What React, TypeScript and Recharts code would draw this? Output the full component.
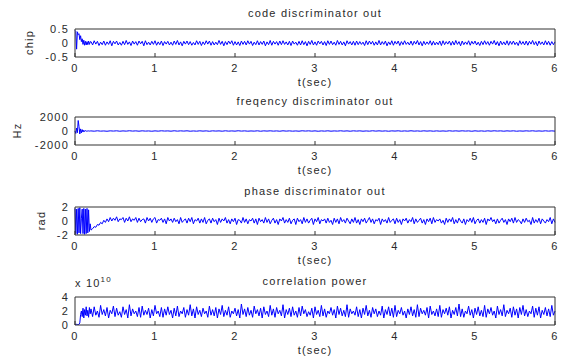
import React from "react";
import { LineChart, Line, XAxis, YAxis } from "recharts";

// sample times: dense start-up segment, then the tracking segment
const EARLY_STEP = 0.01;
const MAIN_START = 0.2;
const DENSE_STEP = 0.02;
const COARSE_STEP = 0.04;
const T_TICKS = [0, 1, 2, 3, 4, 5, 6];

// code discriminator out (chip)
const codeEarly = [0.45, 0.42, -0.22, 0.4, 0.3, 0.33, 0.12, 0.26, 0.05, 0.15, -0.05, 0.1, -0.08, 0.06, -0.07, 0.05, -0.06, 0.07, -0.05, 0.04];
const codeMain = [
  0.05, -0.07, 0.08, -0.04, 0.06, -0.09, 0.03, -0.06, 0.07, -0.08,
  0.04, -0.05, 0.08, -0.1, 0.06, -0.03, 0.07, -0.07, 0.02, -0.08,
  0.06, -0.06, 0.09, -0.05, 0.04, -0.09, 0.07, -0.04, 0.05, -0.08,
  0.07, -0.03, 0.06, -0.1, 0.08, -0.06, 0.03, -0.07, 0.06, -0.05,
  0.08, -0.08, 0.04, -0.06, 0.07, -0.09, 0.05, -0.04, 0.06, -0.07,
  0.03, -0.08, 0.07, -0.05, 0.09, -0.07, 0.04, -0.1, 0.06, -0.04,
  0.07, -0.06, 0.05, -0.08, 0.02, -0.07, 0.08, -0.05, 0.06, -0.09,
  0.04, -0.06, 0.08, -0.04, 0.07, -0.08, 0.05, -0.07, 0.03, -0.06,
  0.09, -0.05, 0.06, -0.1, 0.05, -0.06, 0.07, -0.03, 0.08, -0.08,
  0.05, -0.07, 0.04, -0.09, 0.07, -0.05, 0.06, -0.07, 0.08, -0.04,
  0.06, -0.09, 0.03, -0.06, 0.08, -0.07, 0.05, -0.05, 0.07, -0.1,
  0.04, -0.06, 0.09, -0.08, 0.06, -0.04, 0.05, -0.08, 0.07, -0.06,
  0.08, -0.05, 0.04, -0.07, 0.06, -0.09, 0.07, -0.04, 0.03, -0.08,
  0.06, -0.07, 0.08, -0.06, 0.05, -0.1, 0.06, -0.05, 0.09, -0.07,
  0.04, -0.08, 0.07, -0.03, 0.06, -0.07, 0.05, -0.09, 0.08, -0.05,
  0.07, -0.06, 0.03, -0.08, 0.09, -0.05, 0.06, -0.07, 0.04, -0.1,
  0.08, -0.04, 0.05, -0.07, 0.06, -0.08, 0.07, -0.06, 0.05, -0.05,
  0.03, -0.09, 0.08, -0.06, 0.07, -0.04, 0.06, -0.08, 0.04, -0.07,
  0.09, -0.07, 0.05, -0.05, 0.07, -0.1, 0.04, -0.06, 0.08, -0.08,
  0.06, -0.04, 0.07, -0.09, 0.05, -0.06, 0.08, -0.05, 0.03, -0.07,
  0.07, -0.08, 0.06, -0.04, 0.09, -0.07, 0.05, -0.1, 0.06, -0.06,
  0.04, -0.05, 0.08, -0.08, 0.06, -0.07, 0.03, -0.06, 0.07, -0.09,
  0.08, -0.06, 0.05, -0.04, 0.07, -0.08, 0.06, -0.07, 0.09, -0.05,
  0.05, -0.1, 0.07, -0.06, 0.04, -0.05, 0.08, -0.08, 0.06, -0.04,
  0.07, -0.07, 0.03, -0.09, 0.06, -0.06, 0.08, -0.05, 0.05, -0.08,
  0.06, -0.04, 0.09, -0.07, 0.05, -0.1, 0.07, -0.06, 0.04, -0.07,
  0.08, -0.08, 0.06, -0.05, 0.07, -0.06, 0.03, -0.09, 0.08, -0.05,
  0.05, -0.07, 0.07, -0.08, 0.06, -0.04, 0.09, -0.06, 0.05, -0.1,
  0.07, -0.05, 0.04, -0.07, 0.08, -0.06, 0.06, -0.08, 0.05, -0.06,
  0.04,
];

// freqency discriminator out (Hz)
const freqEarly = [0, -350, 420, -250, 1500, 650, -420, 300, -260, 200, -150, 110, -80, 60, -40, 30, -20, 15, -10, 5];
const freqMain = [
  12, -25, 30, -18, 8, -35, 22, -10, 28, -30,
  15, -20, 35, -12, 18, -28, 25, -15, 10, -32,
  20, -22, 30, -8, 14, -26, 32, -18, 22, -12,
  28, -30, 10, -24, 26, -16, 18, -34, 24, -10,
  16, -28, 30, -20, 12, -22, 34, -14, 20, -26,
  8, -18, 28, -32, 22, -12, 26, -20, 14, -30,
  30, -16, 18, -24, 10, -28, 32, -10, 24, -22,
  20, -34, 14, -18, 28, -26, 12, -14, 30, -20,
  18, -30, 26, -12, 22, -28, 10, -24, 34, -16,
  24, -20, 16, -32, 20, -10, 28, -26, 14, -22,
  32, -18, 12, -28, 26, -14, 20, -30, 18, -24,
  10, -26, 30, -16, 22, -20, 28, -12, 16, -34,
  26, -22, 14, -30, 24, -18, 30, -10, 20, -28,
  22, -14, 26, -30, 10, -18, 24, -12, 30, -22,
  12, -24, 28, -16, 18, -20,
];

// phase discriminator out (rad)
const phaseEarly = [1.8, -1.8, 1.7, -1.9, 1.8, -1.7, 1.9, -1.8, 0.4, 1.7, -1.8, 1.8, -1.9, 1.7, -1.8, 1.8, -1.7, 1.6, -1.5, -0.4];
const phaseMain = [
  -1.3, -1.1, -0.8, -0.9, -0.5, -0.6, -0.2, -0.4, 0.1, -0.2,
  0.3, -0.1, 0.5, 0.0, 0.4, 0.1, 0.6, -0.1, 0.3, 0.2,
  0.5, -0.2, 0.4, 0.0, 0.6, -0.1, 0.3, 0.1, 0.5, -0.2,
  0.4, -0.1, 0.2, 0.3, -0.3, 0.5, 0.0, 0.4, -0.2, 0.3,
  0.5, -0.3, 0.2, 0.1, 0.4, -0.2, 0.3, -0.4, 0.5, 0.0,
  0.3, -0.2, 0.4, -0.1, 0.2, -0.4, 0.5, -0.2, 0.1, 0.3,
  -0.3, 0.4, -0.1, 0.5, -0.4, 0.2, 0.0, 0.4, -0.3, 0.3,
  -0.2, 0.5, -0.4, 0.1, 0.3, -0.3, 0.4, -0.1, 0.2, -0.5,
  0.4, -0.2, 0.3, 0.0, 0.5, -0.3, 0.2, -0.4, 0.3, -0.1,
  0.4, -0.5, 0.2, 0.1, -0.3, 0.5, -0.2, 0.3, -0.4, 0.2,
  0.0, 0.4, -0.3, 0.3, -0.5, 0.4, -0.1, 0.2, -0.3, 0.5,
  -0.2, 0.3, -0.4, 0.1, 0.4, -0.3, 0.2, -0.5, 0.3, 0.0,
  0.5, -0.3, 0.2, -0.2, 0.4, -0.4, 0.1, 0.3, -0.5, 0.4,
  -0.1, 0.2, -0.4, 0.5, -0.2, 0.3, -0.3, 0.1, 0.4, -0.5,
  0.3, -0.1, 0.5, -0.4, 0.2, 0.0, 0.3, -0.3, 0.4, -0.2,
  0.1, -0.5, 0.4, -0.2, 0.3, -0.4, 0.5, -0.1, 0.2, -0.3,
  0.4, 0.0, -0.4, 0.3, -0.2, 0.5, -0.3, 0.2, -0.5, 0.3,
  -0.1, 0.4, -0.3, 0.1, 0.5, -0.2, 0.3, -0.4, 0.2, 0.0,
  0.4, -0.5, 0.3, -0.1, 0.2, -0.3, 0.5, -0.2, 0.1, 0.3,
  -0.4, 0.4, -0.2, 0.2, -0.5, 0.3, 0.0, 0.4, -0.3, 0.2,
  -0.1, 0.5, -0.4, 0.3, -0.2, 0.1, 0.4, -0.3, 0.2, -0.5,
  0.3, -0.1, 0.4, -0.4, 0.5, -0.2, 0.2, 0.0, 0.3, -0.3,
  0.1, -0.5, 0.4, -0.2, 0.3, -0.1, 0.5, -0.4, 0.2, -0.3,
  0.4, 0.0, -0.3, 0.3, -0.5, 0.2, -0.1, 0.4, -0.2, 0.5,
  -0.4, 0.1, 0.3, -0.3, 0.2, -0.2, 0.4, -0.5, 0.3, 0.0,
  0.5, -0.1, 0.2, -0.4, 0.3, -0.3, 0.1, 0.4, -0.2, 0.2,
  -0.5, 0.3, -0.1, 0.4, -0.3, 0.5, -0.2, 0.2, 0.0, -0.4,
  0.3, -0.2, 0.4, -0.1, 0.1, -0.5, 0.5, -0.3, 0.2, -0.2,
  0.4, -0.4, 0.3, 0.0, -0.3, 0.2, -0.1, 0.5, -0.4, 0.3,
  -0.2,
];

// correlation power (x 10^10)
const powerEarly = [0.1, 0.05, 0.1, 0.08, 0.05, 0.1, 0.3, 1.5, 2.0, 1.2, 2.4, 1.0, 2.2, 1.4, 2.6, 1.3, 2.1, 1.1, 2.5, 1.6];
const powerMain = [
  2.3, 1.2, 2.6, 1.4, 2.0, 1.1, 2.8, 1.5, 2.2, 1.3,
  2.5, 1.0, 2.1, 1.6, 2.7, 1.2, 2.4, 1.4, 1.9, 1.1,
  2.6, 1.5, 2.2, 1.0, 2.9, 1.3, 2.3, 1.6, 2.0, 1.2,
  2.5, 1.1, 2.7, 1.4, 2.1, 1.5, 2.4, 1.0, 2.2, 1.3,
  2.8, 1.6, 2.0, 1.2, 2.5, 1.1, 2.3, 1.4, 2.6, 1.5,
  2.1, 1.0, 2.4, 1.3, 2.7, 1.2, 2.0, 1.6, 2.5, 1.1,
  2.2, 1.4, 2.9, 1.3, 2.3, 1.0, 2.6, 1.5, 2.1, 1.2,
  2.4, 1.6, 2.0, 1.1, 2.7, 1.4, 2.2, 1.3, 2.5, 1.0,
  2.3, 1.5, 2.8, 1.2, 2.1, 1.4, 2.6, 1.1, 2.0, 1.6,
  2.4, 1.3, 2.2, 1.0, 3.0, 1.5, 2.3, 1.2, 2.5, 1.4,
  2.1, 1.1, 2.7, 1.6, 2.2, 1.3, 2.4, 1.0, 2.6, 1.5,
  2.0, 1.2, 2.8, 1.4, 2.3, 1.1, 2.5, 1.6, 2.1, 1.3,
  2.9, 1.0, 2.2, 1.5, 2.4, 1.2, 2.6, 1.4, 2.0, 1.1,
  2.5, 1.3, 2.7, 1.6, 2.2, 1.2, 1.9, 1.4, 2.4, 1.0,
  2.6, 1.5, 2.1, 1.2, 2.8, 1.3, 2.3, 1.1, 2.0, 1.6,
  2.5, 1.4, 2.2, 1.0, 2.7, 1.5, 2.4, 1.3, 2.1, 1.2,
  2.9, 1.1, 2.3, 1.6, 2.0, 1.4, 2.6, 1.2, 2.2, 1.0,
  2.4, 1.5, 2.8, 1.3, 2.1, 1.1, 2.5, 1.6, 2.3, 1.2,
  2.0, 1.4, 2.7, 1.0, 2.2, 1.5, 2.6, 1.3, 2.4, 1.1,
  2.8, 1.2, 2.1, 1.6, 2.5, 1.4, 2.0, 1.0, 2.3, 1.5,
  2.6, 1.3, 2.2, 1.1, 2.9, 1.2, 2.4, 1.6, 2.1, 1.4,
  2.5, 1.0, 2.7, 1.5, 2.0, 1.3, 2.3, 1.2, 2.8, 1.1,
  2.2, 1.6, 2.4, 1.4, 2.6, 1.0, 2.1, 1.5, 2.5, 1.3,
  3.0, 1.2, 2.3, 1.1, 2.0, 1.6, 2.7, 1.4, 2.2, 1.0,
  2.4, 1.5, 2.6, 1.3, 2.1, 1.2, 2.8, 1.1, 2.3, 1.6,
  2.5, 1.4, 2.0, 1.0, 2.7, 1.5, 2.2, 1.3, 2.9, 1.2,
  2.1, 1.6, 2.4, 1.1, 2.6, 1.4, 2.3, 1.0, 2.5, 1.5,
  2.8, 1.3, 2.2, 1.2, 2.0, 1.6, 2.7, 1.1, 2.4, 1.4,
  2.6, 1.0, 2.1, 1.5, 2.5, 1.3, 2.3, 1.2, 2.8, 1.4,
  2.0,
];

const buildRows = (early: number[], main: number[], step: number) => [
  ...early.map((v, i) => ({ t: +(i * EARLY_STEP).toFixed(3), v })),
  ...main.map((v, i) => ({ t: +(MAIN_START + i * step).toFixed(3), v })),
];

const FONT = "'Liberation Sans', Arial, sans-serif";
const INK = "#2a2a2a";
const AXIS = "#333";
const tickStyle = { fontSize: 11, fill: INK, letterSpacing: 1.2, fontFamily: FONT };
const textStyle: React.CSSProperties = { position: "absolute", fontSize: 11, lineHeight: "11px", letterSpacing: 1.2, color: INK, fontFamily: FONT, whiteSpace: "nowrap" };

const PLOT_LEFT = 75;
const PLOT_W = 480;
const PLOT_H = 28;

interface PanelProps {
  top: number;
  title: string;
  yLabel?: string;
  yLabelX?: number;
  domain: [number, number];
  yTicks: number[];
  rows: { t: number; v: number }[];
  exponent?: boolean;
}

const Panel: React.FC<PanelProps> = ({ top, title, yLabel, yLabelX = 30, domain, yTicks, rows, exponent }) => (
  <>
    <div style={{ ...textStyle, left: PLOT_LEFT, width: PLOT_W, textAlign: "center", top: top - 21 }}>{title}</div>
    {yLabel && (
      <div style={{ ...textStyle, left: yLabelX - 20, width: 40, textAlign: "center", top: top + PLOT_H / 2 - 6, transform: "rotate(-90deg)" }}>
        {yLabel}
      </div>
    )}
    {exponent && (
      <div style={{ ...textStyle, left: PLOT_LEFT, top: top - 19 }}>
        x 10<sup style={{ fontSize: 8, verticalAlign: "top", position: "relative", top: -4 }}>10</sup>
      </div>
    )}
    <div style={{ ...textStyle, left: PLOT_LEFT, width: PLOT_W, textAlign: "center", top: top + PLOT_H + 20 }}>t(sec)</div>
    <div style={{ position: "absolute", left: 0, top: 0 }}>
      <LineChart width={564} height={top + PLOT_H + 20} data={rows} margin={{ top: top - 1, right: 8, bottom: 0, left: PLOT_LEFT - 40 }}>
        <XAxis dataKey="t" type="number" domain={[0, 6]} ticks={T_TICKS} stroke={AXIS} tickSize={-4} tickMargin={11} height={20} tick={tickStyle} interval={0} />
        <XAxis xAxisId="top" orientation="top" type="number" domain={[0, 6]} ticks={T_TICKS} stroke={AXIS} tickSize={-4} height={1} tick={false} interval={0} />
        <YAxis type="number" domain={domain} ticks={yTicks} stroke={AXIS} tickLine={false} tickSize={0} tickMargin={6} width={40} tick={tickStyle} interval={0} allowDataOverflow />
        <YAxis yAxisId="r" orientation="right" type="number" domain={domain} stroke={AXIS} tickLine={false} tick={false} width={1} />
        <Line dataKey="v" type="linear" stroke="#0000ff" strokeWidth={1} dot={false} isAnimationActive={false} />
      </LineChart>
    </div>
  </>
);

export default function App() {
  return (
    <div style={{ position: "absolute", left: 0, top: 0, width: 564, height: 358, background: "#fff", overflow: "hidden" }}>
      <Panel top={29} title="code discriminator out" yLabel="chip" yLabelX={29} domain={[-0.5, 0.5]} yTicks={[-0.5, 0, 0.5]} rows={buildRows(codeEarly, codeMain, DENSE_STEP)} />
      <Panel top={117} title="freqency discriminator out" yLabel="Hz" yLabelX={17} domain={[-2000, 2000]} yTicks={[-2000, 0, 2000]} rows={buildRows(freqEarly, freqMain, COARSE_STEP)} />
      <Panel top={207} title="phase discriminator out" yLabel="rad" yLabelX={41} domain={[-2, 2]} yTicks={[-2, 0, 2]} rows={buildRows(phaseEarly, phaseMain, DENSE_STEP)} />
      <Panel top={297} title="correlation power" domain={[0, 4]} yTicks={[0, 2, 4]} rows={buildRows(powerEarly, powerMain, DENSE_STEP)} exponent />
    </div>
  );
}
